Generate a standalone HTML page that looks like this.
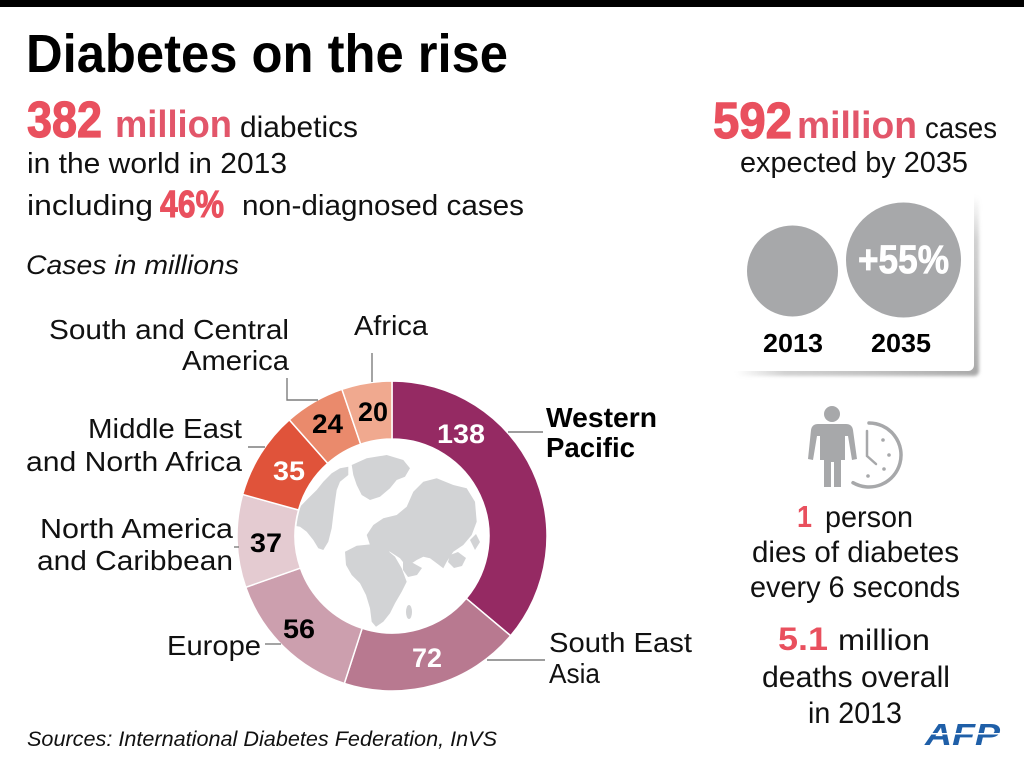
<!DOCTYPE html>
<html>
<head>
<meta charset="utf-8">
<style>
html,body{margin:0;padding:0;background:#fff;}
svg{display:block;}
text{font-family:"Liberation Sans",sans-serif;}
</style>
</head>
<body>
<svg width="1024" height="771" viewBox="0 0 1024 771" xmlns="http://www.w3.org/2000/svg">
<defs>
  <linearGradient id="shR" x1="0" y1="0" x2="0" y2="1">
    <stop offset="0" stop-color="#bdbdbd" stop-opacity="0"/>
    <stop offset="0.25" stop-color="#bdbdbd" stop-opacity="0.7"/>
    <stop offset="1" stop-color="#a9a9a9" stop-opacity="1"/>
  </linearGradient>
  <linearGradient id="shB" x1="0" y1="0" x2="1" y2="0">
    <stop offset="0" stop-color="#bdbdbd" stop-opacity="0"/>
    <stop offset="0.2" stop-color="#bdbdbd" stop-opacity="0.7"/>
    <stop offset="1" stop-color="#a9a9a9" stop-opacity="1"/>
  </linearGradient>
  <filter id="blur" x="-10%" y="-10%" width="120%" height="120%">
    <feGaussianBlur stdDeviation="1.5"/>
  </filter>
  <clipPath id="globe"><circle cx="392" cy="536" r="96"/></clipPath>
</defs>

<rect x="0" y="0" width="1024" height="771" fill="#fff"/>
<rect x="0" y="0" width="1024" height="7" fill="#000"/>

<!-- Title -->
<text x="26" y="72" font-size="54" font-weight="bold" fill="#000" textLength="482" lengthAdjust="spacingAndGlyphs">Diabetes on the rise</text>

<!-- 382 million -->
<text x="27" y="137" font-size="51" font-weight="bold" fill="#e9505e" stroke="#e9505e" stroke-width="1.2" textLength="75" lengthAdjust="spacingAndGlyphs">382</text>
<text x="115" y="137" font-size="38" font-weight="bold" fill="#e2566a" textLength="117" lengthAdjust="spacingAndGlyphs">million</text>
<text x="240" y="137" font-size="30" fill="#111" textLength="118" lengthAdjust="spacingAndGlyphs">diabetics</text>
<text x="27" y="173" font-size="29" fill="#111" textLength="260" lengthAdjust="spacingAndGlyphs">in the world in 2013</text>
<text x="27" y="215" font-size="29" fill="#111" textLength="126" lengthAdjust="spacingAndGlyphs">including</text>
<text x="160" y="217" font-size="38" font-weight="bold" fill="#e9505e" stroke="#e9505e" stroke-width="1" textLength="64" lengthAdjust="spacingAndGlyphs">46%</text>
<text x="242" y="215" font-size="29" fill="#111" textLength="282" lengthAdjust="spacingAndGlyphs">non-diagnosed cases</text>

<text x="26" y="274" font-size="27" font-style="italic" fill="#111" textLength="213" lengthAdjust="spacingAndGlyphs">Cases in millions</text>

<!-- Donut -->
<g stroke="#fff" stroke-width="1.5" stroke-linejoin="round">
  <path d="M392,381 A155,155 0 0 1 510.64,635.76 L466.24,598.43 A97,97 0 0 0 392,439 Z" fill="#952a63"/>
  <path d="M510.64,635.76 A155,155 0 0 1 344.32,683.48 L362.16,628.30 A97,97 0 0 0 466.24,598.43 Z" fill="#b87990"/>
  <path d="M344.32,683.48 A155,155 0 0 1 245.73,587.29 L300.46,568.10 A97,97 0 0 0 362.16,628.30 Z" fill="#cc9fae"/>
  <path d="M245.73,587.29 A155,155 0 0 1 242.67,494.44 L298.55,509.99 A97,97 0 0 0 300.46,568.10 Z" fill="#e4cbd1"/>
  <path d="M242.67,494.44 A155,155 0 0 1 289.34,419.86 L327.76,463.32 A97,97 0 0 0 298.55,509.99 Z" fill="#e0533a"/>
  <path d="M289.34,419.86 A155,155 0 0 1 341.92,389.31 L360.66,444.20 A97,97 0 0 0 327.76,463.32 Z" fill="#ea8a6c"/>
  <path d="M341.92,389.31 A155,155 0 0 1 392,381 L392,439 A97,97 0 0 0 360.66,444.20 Z" fill="#f0a98f"/>
</g>

<!-- Globe -->
<g clip-path="url(#globe)" fill="#d2d3d5">
  <path d="M293.3,515 L300,506.7 L308.3,498.3 L316.7,490 L323.3,481.7 L331.7,473.3 L340,468.3 L348.3,466.7 L348.3,475 L340,481.7 L336.7,490 L335,501.7 L333.3,515 L331.7,528.3 L328.3,541.7 L323.3,550 L318.3,548.3 L313.3,540 L306.7,531.7 L300,526.7 L290,525 Z"/>
  <path d="M351.7,465 L366.7,458.3 L386.7,455 L403.3,460 L410,468.3 L405,476.7 L396.7,480 L390,488.3 L380,496.7 L370,500 L361.7,495 L356.7,485 L353.3,475 Z"/>
  <path d="M366.7,535 L373.3,525 L383.3,518.3 L396.7,515 L406.7,506.7 L413.3,491.7 L423.3,481.7 L436.7,478.3 L453.3,485 L466.7,488.3 L475,501.7 L476.7,521.7 L471.7,535 L463.3,545 L453.3,551.7 L446.7,561.7 L443.3,568.3 L436.7,563.3 L430,558.3 L423.3,556.7 L416.7,560 L406.7,566.7 L400,558.3 L390,551.7 L380,550 L370,545 Z"/>
  <path d="M345,551.7 L356.7,545.7 L371.7,544.3 L385,548.3 L395,556.7 L401.7,568.3 L406.7,581.7 L401.7,591.7 L395,603.3 L390,613.3 L383.3,621.7 L376,626.7 L371.7,621.7 L370,608.3 L366,595 L360,583.3 L351.7,575 L346,565 Z"/>
  <path d="M403,562 L413,563 L422,568 L417,575 L408,577 L403,570 Z"/>
  <ellipse cx="409" cy="612" rx="3" ry="7"/>
  <path d="M450,555 L458,552 L466,558 L462,566 L454,568 L448,562 Z"/>
  <path d="M470,540 L476,534 L480,542 L475,550 Z"/>
</g>

<!-- Donut values -->
<g font-weight="bold" font-size="27">
  <text x="437" y="443" fill="#fff" textLength="48" lengthAdjust="spacingAndGlyphs">138</text>
  <text x="412" y="667" fill="#fff" textLength="30" lengthAdjust="spacingAndGlyphs">72</text>
  <text x="283" y="638" fill="#000" textLength="32" lengthAdjust="spacingAndGlyphs">56</text>
  <text x="250" y="552" fill="#000" textLength="32" lengthAdjust="spacingAndGlyphs">37</text>
  <text x="273" y="480" fill="#fff" textLength="32" lengthAdjust="spacingAndGlyphs">35</text>
  <text x="312" y="433" fill="#000" textLength="31" lengthAdjust="spacingAndGlyphs">24</text>
  <text x="358" y="421" fill="#000" textLength="30" lengthAdjust="spacingAndGlyphs">20</text>
</g>

<!-- Leader lines -->
<g stroke="#7d7d7d" stroke-width="1.4" fill="none">
  <path d="M508,432 L543,432"/>
  <path d="M487,660 L545,660"/>
  <path d="M265,644 L281,644"/>
  <path d="M234,547 L239,547"/>
  <path d="M248,447 L265,447"/>
  <path d="M287,378 L287,400 L318,400"/>
  <path d="M372,353 L372,382"/>
</g>

<!-- Region labels -->
<g font-size="28" fill="#111">
  <text x="49" y="339" textLength="240" lengthAdjust="spacingAndGlyphs">South and Central</text>
  <text x="182" y="370" textLength="107" lengthAdjust="spacingAndGlyphs">America</text>
  <text x="354" y="335" textLength="74" lengthAdjust="spacingAndGlyphs">Africa</text>
  <text x="88" y="438" textLength="154" lengthAdjust="spacingAndGlyphs">Middle East</text>
  <text x="26" y="471" textLength="216" lengthAdjust="spacingAndGlyphs">and North Africa</text>
  <text x="40" y="538" textLength="193" lengthAdjust="spacingAndGlyphs">North America</text>
  <text x="37" y="570" textLength="196" lengthAdjust="spacingAndGlyphs">and Caribbean</text>
  <text x="167" y="655" textLength="94" lengthAdjust="spacingAndGlyphs">Europe</text>
  <text x="549" y="652" textLength="143" lengthAdjust="spacingAndGlyphs">South East</text>
  <text x="549" y="683" textLength="51" lengthAdjust="spacingAndGlyphs">Asia</text>
  <text x="546" y="427" font-weight="bold" fill="#000" textLength="111" lengthAdjust="spacingAndGlyphs">Western</text>
  <text x="546" y="457" font-weight="bold" fill="#000" textLength="89" lengthAdjust="spacingAndGlyphs">Pacific</text>
</g>

<!-- Right top -->
<text x="713" y="138" font-size="51" font-weight="bold" fill="#e9505e" stroke="#e9505e" stroke-width="1.2" textLength="79" lengthAdjust="spacingAndGlyphs">592</text>
<text x="797" y="138" font-size="38" font-weight="bold" fill="#e2566a" textLength="120" lengthAdjust="spacingAndGlyphs">million</text>
<text x="925" y="138" font-size="30" fill="#111" textLength="72" lengthAdjust="spacingAndGlyphs">cases</text>
<text x="740" y="172" font-size="29" fill="#111" textLength="228" lengthAdjust="spacingAndGlyphs">expected by 2035</text>

<!-- Box with shadow -->
<g filter="url(#blur)">
  <rect x="969" y="196" width="10" height="180" rx="5" fill="url(#shR)"/>
  <rect x="736" y="366" width="243" height="10" rx="5" fill="url(#shB)"/>
</g>
<rect x="730" y="188" width="244" height="183" rx="6" fill="#fff"/>

<circle cx="792.5" cy="271" r="45.5" fill="#a7a8aa"/>
<circle cx="903.5" cy="260" r="57.5" fill="#a7a8aa"/>
<text x="858" y="273" font-size="40" font-weight="bold" fill="#fff" stroke="#fff" stroke-width="0.8" textLength="91" lengthAdjust="spacingAndGlyphs">+55%</text>
<text x="763" y="352" font-size="26" font-weight="bold" fill="#000" textLength="60" lengthAdjust="spacingAndGlyphs">2013</text>
<text x="871" y="352" font-size="26" font-weight="bold" fill="#000" textLength="60" lengthAdjust="spacingAndGlyphs">2035</text>

<!-- Person + clock icon -->
<g fill="#a7a8aa">
  <circle cx="832" cy="414" r="8"/>
  <path d="M818,424 L846,424 Q852,424 853,430 L857,459 L852,460 L848,436 L845,436 L845,460 L841,460 L841,487 L834,487 L834,462 L831,462 L831,487 L824,487 L824,460 L820,460 L820,436 L817,436 L813,460 L808,459 L811,430 Q812,424 818,424 Z"/>
</g>
<g fill="none" stroke="#a7a8aa" stroke-width="3.5" stroke-linecap="round">
  <path d="M869,423 A32,32 0 1 1 853,482.7"/>
  <path d="M867,431 L867,456 L876,464" stroke-width="2.5"/>
</g>
<g fill="#a7a8aa">
  <circle cx="883" cy="440" r="1.8"/>
  <circle cx="889" cy="455" r="1.8"/>
  <circle cx="884" cy="469" r="1.8"/>
  <circle cx="868" cy="476" r="1.8"/>
</g>

<!-- Right bottom text -->
<text x="797" y="527" font-size="31" font-weight="bold" fill="#e9505e" textLength="15" lengthAdjust="spacingAndGlyphs">1</text>
<text x="825" y="527" font-size="30" fill="#111" textLength="88" lengthAdjust="spacingAndGlyphs">person</text>
<text x="752" y="562" font-size="30" fill="#111" textLength="207" lengthAdjust="spacingAndGlyphs">dies of diabetes</text>
<text x="750" y="597" font-size="30" fill="#111" textLength="210" lengthAdjust="spacingAndGlyphs">every 6 seconds</text>
<text x="778" y="650" font-size="32" font-weight="bold" fill="#e9505e" textLength="50" lengthAdjust="spacingAndGlyphs">5.1</text>
<text x="838" y="650" font-size="30" fill="#111" textLength="92" lengthAdjust="spacingAndGlyphs">million</text>
<text x="762" y="687" font-size="30" fill="#111" textLength="188" lengthAdjust="spacingAndGlyphs">deaths overall</text>
<text x="808" y="723" font-size="30" fill="#111" textLength="94" lengthAdjust="spacingAndGlyphs">in 2013</text>

<!-- AFP logo -->
<text x="925" y="745" font-size="31" font-weight="bold" font-style="italic" fill="#1f5fa8" textLength="75" lengthAdjust="spacingAndGlyphs">AFP</text>
<rect x="920" y="733" width="84" height="1.5" fill="#fff"/>

<!-- Sources -->
<text x="27" y="746" font-size="21" font-style="italic" fill="#111" textLength="470" lengthAdjust="spacingAndGlyphs">Sources: International Diabetes Federation, InVS</text>
</svg>
</body>
</html>
